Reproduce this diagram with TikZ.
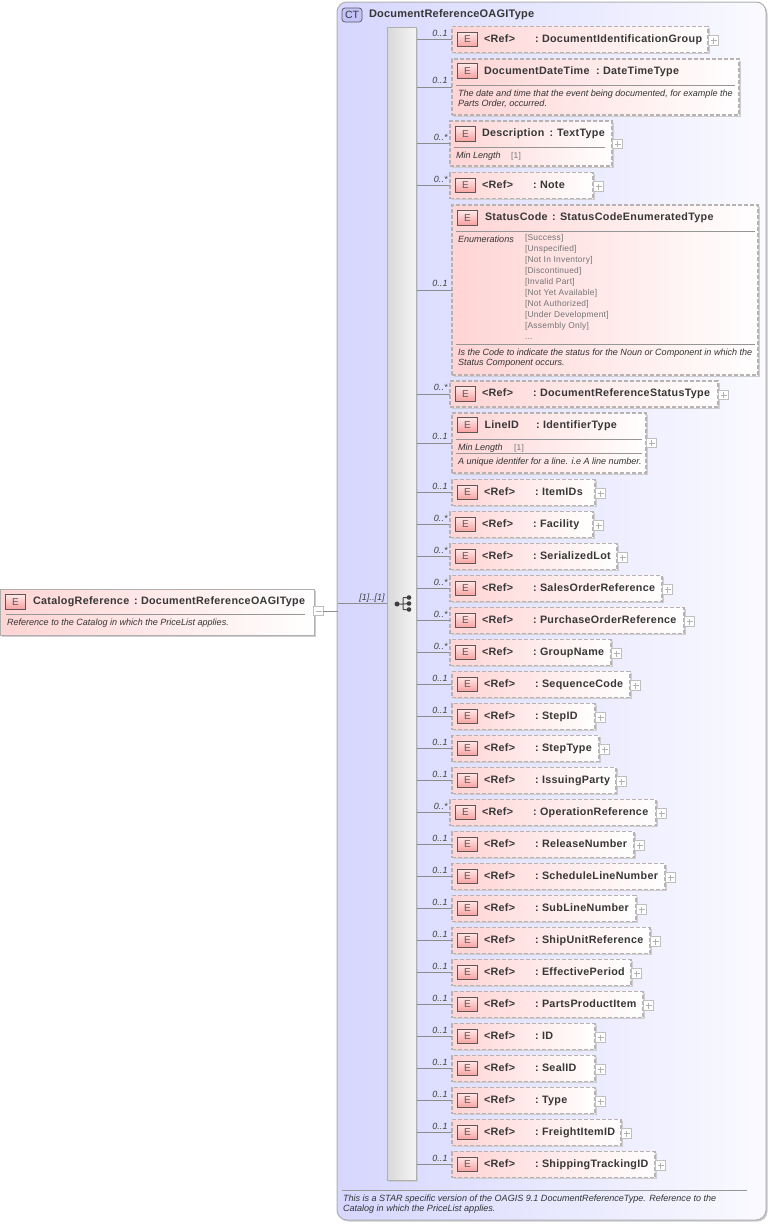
\documentclass[tikz,border=0pt]{standalone}
\usepackage{fontspec}
\setmainfont{Liberation Sans}
\usetikzlibrary{shadows,calc}
\newfontfamily\ttlfont[LetterSpace=3]{Liberation Sans Bold}
\newfontfamily\ctfont[LetterSpace=2]{Liberation Sans Bold}
\newfontfamily\docfont{Liberation Sans Italic}
\newfontfamily\enumfont[LetterSpace=3]{Liberation Sans}
\definecolor{txt}{RGB}{55,55,55}
\definecolor{bord}{RGB}{175,175,175}
\definecolor{dashc}{RGB}{185,178,178}
\definecolor{sepc}{RGB}{150,150,150}
\definecolor{pinkl}{RGB}{255,212,212}
\definecolor{shad}{RGB}{205,205,210}
\definecolor{icotop}{RGB}{255,232,232}
\definecolor{icobot}{RGB}{247,160,160}
\definecolor{icobrd}{RGB}{100,85,85}
\tikzset{
  x=1pt,y=-1pt,
  shade box/.style={inner sep=0,outer sep=0,anchor=north west,left color=pinkl,right color=white,draw=bord,line width=1pt,
     general shadow={shadow xshift=1.5pt,shadow yshift=-1.5pt,fill=shad}},
  optbox/.style={shade box,draw=dashc,line width=1.25pt,dash pattern=on 4pt off 2pt},
  reqbox/.style={shade box},
  eicon/.style={inner sep=0,outer sep=0,minimum width=20pt,minimum height=14.5pt,draw=icobrd,line width=.8pt,
     top color=icotop,bottom color=icobot,text=icobrd,font=\fontsize{10}{10}\selectfont},
  ctitle/.style={inner sep=0,outer sep=0,anchor=base west,text=txt,font=\fontsize{10.75}{12}\ttlfont},
  doctext/.style={inner sep=0,outer sep=0,anchor=base west,text=black!80,font=\fontsize{9.05}{10}\docfont},
  enumtext/.style={inner sep=0,outer sep=0,anchor=base west,text=black!55,font=\fontsize{8.4}{10}\enumfont},
  multtext/.style={inner sep=0,outer sep=0,anchor=base east,text=black!75,font=\fontsize{9}{10}\docfont},
  conn/.style={draw=black!45,line width=.7pt},
  sep/.style={draw=sepc,line width=.7pt},
  pmbox/.style={inner sep=0,outer sep=0,minimum width=9.5pt,minimum height=9.5pt,draw=black!25,fill=white,line width=.6pt},
  pmline/.style={draw=black!30,line width=.6pt},
}
\newcommand\plusat[3]{% id, x, y
  \node[pmbox] (#1) at (#2,#3) {};
  \draw[pmline] ($(#1.center)+(-3,0)$) -- ($(#1.center)+(3,0)$);
  \draw[pmline] ($(#1.center)+(0,-3)$) -- ($(#1.center)+(0,3)$);
}
\newcommand\boxat[6]{% id, style, l, r, t, b
  \pgfmathsetmacro\bw{#4-#3}\pgfmathsetmacro\bh{#6-#5}
  \node[#2,minimum width=\bw pt,minimum height=\bh pt] (#1) at (#3,#5) {};
}
\newcommand\iconat[3]{% id, l, yc
  \node[eicon,anchor=west] (#1) at (#2,#3) {E};
}
\newcommand\connmult[3]{% id, mult, label y offset
  \draw[conn] (seq.east |- #1.west) -- (#1.west);
  \node[multtext] (#1m) at ($(447.5,0 |- #1.west)+(0,#3)$) {#2};
}
\newcommand\refrow[6]{% id, l, r, yc, mult, name
  \pgfmathsetmacro\tp{#4-13}\pgfmathsetmacro\bt{#4+13}
  \boxat{#1}{optbox}{#2}{#3}{\tp}{\bt}
  \pgfmathsetmacro\ix{#2+5.5}\iconat{#1i}{\ix}{#4}
  \pgfmathsetmacro\rx{#2+32}\pgfmathsetmacro\cx{#2+83}\pgfmathsetmacro\nx{#2+90}\pgfmathsetmacro\by{#4+2.5}
  \node[ctitle] (#1r) at (\rx,\by) {<Ref>};
  \node[ctitle] (#1c) at (\cx,\by) {:};
  \node[ctitle] (#1n) at (\nx,\by) {#6};
  \pgfmathsetmacro\px{#3+5.5}\pgfmathsetmacro\py{#4+1}
  \plusat{#1p}{\px}{\py}
  \connmult{#1}{#5}{-3.5}
}
\begin{document}
\begin{tikzpicture}
\useasboundingbox (0,0) rectangle (771,1224);
% complex type container
\node[inner sep=0,outer sep=0,anchor=north west,minimum width=429pt,minimum height=1218pt,rounded corners=10pt,
  left color={rgb,255:red,214;green,214;blue,255},right color={rgb,255:red,250;green,250;blue,255},draw=bord,line width=1pt,
  general shadow={shadow xshift=1.5pt,shadow yshift=-1.5pt,fill=shad}] (ct) at (337,2) {};
\node[inner sep=0,outer sep=0,minimum width=20pt,minimum height=14pt,rounded corners=3pt,draw=black!65,line width=.7pt,
  fill={rgb,255:red,195;green,195;blue,250},text=txt,font=\fontsize{10.5}{10}\selectfont] (cti) at (352,15) {CT};
\node[inner sep=0,outer sep=0,anchor=base west,text=txt,font=\fontsize{11}{12}\ctfont] (ctt) at (369,17) {DocumentReferenceOAGIType};
\coordinate (cts1) at (342,1190.5);\coordinate (cts2) at (747,1190.5);
\draw[sep] (cts1) -- (cts2);
\node[doctext] (ctd1) at (343,1201) {This is a STAR specific version of the OAGIS 9.1 DocumentReferenceType. Reference to the};
\node[doctext] (ctd2) at (343,1211) {Catalog in which the PriceList applies.};
% sequence bar
\node[inner sep=0,outer sep=0,anchor=north west,minimum width=29.5pt,minimum height=1153pt,left color=black!15,right color=black!4,
  draw=bord,line width=1pt,general shadow={shadow xshift=1.5pt,shadow yshift=-1.5pt,fill=shad}] (seq) at (387,27) {};
% sequence icon
\coordinate (sa) at (397,604);\coordinate (sb) at (403,604);
\coordinate (s1) at (409,597.5);\coordinate (s2) at (409,603.5);\coordinate (s3) at (409,609.5);
\coordinate (s4) at (403,597.5);\coordinate (s5) at (403,609.5);
\draw[draw=black!70,line width=1pt] (sa) -- (sb) (s4) -- (s5) (s4) -- (s1) (s5) -- (s3) (sb) -- (s2);
\fill[black!75] (sa) circle (2.5pt);
\foreach \c in {s1,s2,s3}{\fill[black!75] (\c) circle (2.3pt);}
% main element
\boxat{mainel}{reqbox}{0.5}{314}{589}{635}
\iconat{maini}{5.5}{602}
\node[ctitle] (maint) at (33,604) {CatalogReference};
\node[ctitle] (mainc) at (134,604) {:};
\node[ctitle] (maintt) at (141,604) {DocumentReferenceOAGIType};
\coordinate (ms1) at (6,614);\coordinate (ms2) at (305,614);
\draw[sep] (ms1) -- (ms2);
\node[doctext] (maind) at (7,625) {Reference to the Catalog in which the PriceList applies.};
\node[pmbox] (mainp) at (318.5,611) {};
\draw[pmline] ($(mainp.center)+(-3,0)$) -- ($(mainp.center)+(3,0)$);
\coordinate (ctin) at (337.5,611);
\draw[conn] (mainp.east) -- (ctin);
\coordinate (ctin2) at (337.5,603.5);
\draw[conn] (ctin2) -- (seq.west |- ctin2);
\node[multtext] (cm) at (384.5,600.5) {[1]..[1]};
% rows
\refrow{r01}{452}{708}{39.5}{0..1}{DocumentIdentificationGroup}
% DocumentDateTime
\boxat{r02}{optbox}{452}{739}{59}{115}
\iconat{r02i}{457.5}{71}
\node[ctitle] (r02t) at (484,74) {DocumentDateTime};
\node[ctitle] (r02c) at (596,74) {:};
\node[ctitle] (r02n) at (603,74) {DateTimeType};
\coordinate (r02a) at (456,85);\coordinate (r02b) at (735,85);
\draw[sep] (r02a) -- (r02b);
\node[doctext] (r02d) at (458,96) {The date and time that the event being documented, for example the};
\node[doctext] (r02e) at (458,106) {Parts Order, occurred.};
\connmult{r02}{0..1}{-3.5}
% Description
\boxat{r03}{optbox}{450}{612}{121}{166}
\iconat{r03i}{455.5}{134}
\node[ctitle] (r03t) at (482,136) {Description};
\node[ctitle] (r03c) at (549.5,136) {:};
\node[ctitle] (r03n) at (557,136) {TextType};
\coordinate (r03a) at (454,147);\coordinate (r03b) at (605,147);
\draw[sep] (r03a) -- (r03b);
\node[doctext] (r03d) at (456,158) {Min Length};
\node[enumtext] (r03e) at (511,158) {[1]};
\plusat{r03p}{617.5}{144}
\connmult{r03}{0..*}{-3.5}
\refrow{r04}{450}{593}{185.5}{0..*}{Note}
% StatusCode
\boxat{r05}{optbox}{452}{758}{205}{375}
\iconat{r05i}{457.5}{218}
\node[ctitle] (r05t) at (485,220) {StatusCode};
\node[ctitle] (r05c) at (552,220) {:};
\node[ctitle] (r05n) at (560,220) {StatusCodeEnumeratedType};
\coordinate (r05a) at (456,231.5);\coordinate (r05b) at (755,231.5);
\draw[sep] (r05a) -- (r05b);
\node[doctext] (r05d) at (458,242) {Enumerations};
\node[enumtext] (e1) at (525,240.5) {[Success]};
\node[enumtext] (e2) at (525,251.5) {[Unspecified]};
\node[enumtext] (e3) at (525,262.5) {[Not In Inventory]};
\node[enumtext] (e4) at (525,273.5) {[Discontinued]};
\node[enumtext] (e5) at (525,284.5) {[Invalid Part]};
\node[enumtext] (e6) at (525,295.5) {[Not Yet Available]};
\node[enumtext] (e7) at (525,306.5) {[Not Authorized]};
\node[enumtext] (e8) at (525,317.5) {[Under Development]};
\node[enumtext] (e9) at (525,328.5) {[Assembly Only]};
\node[enumtext] (e10) at (525,339.5) {...};
\coordinate (r05e) at (456,344.5);\coordinate (r05f) at (755,344.5);
\draw[sep] (r05e) -- (r05f);
\node[doctext] (r05g) at (458,355) {Is the Code to indicate the status for the Noun or Component in which the};
\node[doctext] (r05h) at (458,365) {Status Component occurs.};
\connmult{r05}{0..1}{-3.5}
\refrow{r06}{450}{718}{394}{0..*}{DocumentReferenceStatusType}
% LineID
\boxat{r07}{optbox}{452}{646}{413}{473}
\iconat{r07i}{457.5}{425}
\node[ctitle] (r07t) at (484.5,428) {LineID};
\node[ctitle] (r07c) at (536,428) {:};
\node[ctitle] (r07n) at (543,428) {IdentifierType};
\coordinate (r07a) at (456,439);\coordinate (r07b) at (642,439);
\draw[sep] (r07a) -- (r07b);
\node[doctext] (r07d) at (458,450) {Min Length};
\node[enumtext] (r07e) at (514,450) {[1]};
\coordinate (r07f) at (456,453.5);\coordinate (r07g) at (642,453.5);
\draw[sep] (r07f) -- (r07g);
\node[doctext] (r07h) at (458,464) {A unique identifer for a line. i.e A line number.};
\plusat{r07p}{651.5}{443}
\connmult{r07}{0..1}{-3.5}
% simple rows
\refrow{r08}{452}{595}{492.5}{0..1}{ItemIDs}
\refrow{r09}{450}{593}{524.5}{0..*}{Facility}
\refrow{r10}{450}{617}{556.5}{0..*}{SerializedLot}
\refrow{r11}{450}{662}{588.5}{0..*}{SalesOrderReference}
\refrow{r12}{450}{684}{620.5}{0..*}{PurchaseOrderReference}
\refrow{r13}{450}{611}{652.5}{0..*}{GroupName}
\refrow{r14}{452}{630}{684.5}{0..1}{SequenceCode}
\refrow{r15}{452}{595}{716.5}{0..1}{StepID}
\refrow{r16}{452}{599}{748.5}{0..1}{StepType}
\refrow{r17}{452}{616}{780.5}{0..1}{IssuingParty}
\refrow{r18}{450}{656}{812.5}{0..*}{OperationReference}
\refrow{r19}{452}{634}{844.5}{0..1}{ReleaseNumber}
\refrow{r20}{452}{665}{876.5}{0..1}{ScheduleLineNumber}
\refrow{r21}{452}{636}{908.5}{0..1}{SubLineNumber}
\refrow{r22}{452}{650}{940.5}{0..1}{ShipUnitReference}
\refrow{r23}{452}{631}{972.5}{0..1}{EffectivePeriod}
\refrow{r24}{452}{643}{1004.5}{0..1}{PartsProductItem}
\refrow{r25}{452}{595}{1036.5}{0..1}{ID}
\refrow{r26}{452}{595}{1068.5}{0..1}{SealID}
\refrow{r27}{452}{595}{1100.5}{0..1}{Type}
\refrow{r28}{452}{621}{1132.5}{0..1}{FreightItemID}
\refrow{r29}{452}{655}{1164.5}{0..1}{ShippingTrackingID}
\end{tikzpicture}
\end{document}
